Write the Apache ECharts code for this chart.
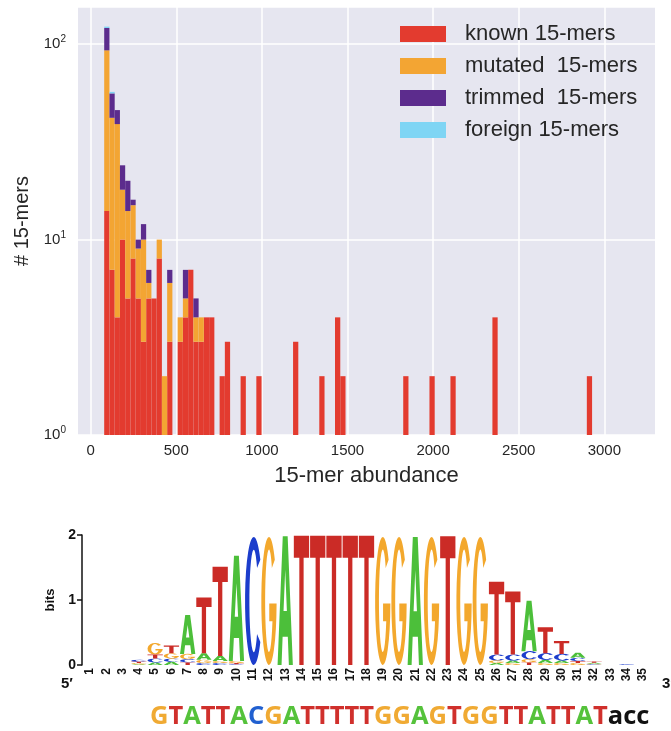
<!DOCTYPE html>
<html><head><meta charset="utf-8">
<script src="https://cdn.jsdelivr.net/npm/echarts@6/dist/echarts.min.js"></script>
<style>html,body{margin:0;padding:0;background:#fff}#c{width:671px;height:731px}</style>
</head><body><div id="c"></div>
<script>
// ---------- histogram data ----------
const seriesNames = ['known 15-mers', 'mutated  15-mers', 'trimmed  15-mers', 'foreign 15-mers'];
const binStart = 79;      // left edge of first histogram bin (15-mer abundance)
const binWidth = 30.64;   // histogram bin width
const known = [14,7,4,10,5,8,5,3,5,5, 8,1,3,0,3,4,7,3,3,4, 4,0,2,3,0,0,2,0,0,2,
               0,0,0,0,0,0,3,0,0,0, 0,2,0,0,4,2,0,0,0,0, 0,0,0,0,0,0,0,2,0,0,
               0,0,2,0,0,0,2,0,0,0, 0,0,0,0,4,0,0,0,0,0, 0,0,0,0,0,0,0,0,0,0,
               0,0,2,0,0,0,0,0,0,0];
const mutated = [79,35,35,8,9,7,4,7,1,0, 2,1,3,0,1,1,0,1,1,0, 0,0,0,0,0,0,0,0,0,0,
               0,0,0,0,0,0,0,0,0,0, 0,0,0,0,0,0,0,0,0,0, 0,0,0,0,0,0,0,0,0,0,
               0,0,0,0,0,0,0,0,0,0, 0,0,0,0,0,0,0,0,0,0, 0,0,0,0,0,0,0,0,0,0,
               0,0,0,0,0,0,0,0,0,0];
const trimmed = [28,14,7,6,6,1,1,2,1,0, 0,0,1,0,0,2,0,1,0,0, 0,0,0,0,0,0,0,0,0,0,
               0,0,0,0,0,0,0,0,0,0, 0,0,0,0,0,0,0,0,0,0, 0,0,0,0,0,0,0,0,0,0,
               0,0,0,0,0,0,0,0,0,0, 0,0,0,0,0,0,0,0,0,0, 0,0,0,0,0,0,0,0,0,0,
               0,0,0,0,0,0,0,0,0,0];
const foreign = [2,1,0,0,0,0,0,0,0,0, 0,0,0,0,0,0,0,0,0,0, 0,0,0,0,0,0,0,0,0,0,
               0,0,0,0,0,0,0,0,0,0, 0,0,0,0,0,0,0,0,0,0, 0,0,0,0,0,0,0,0,0,0,
               0,0,0,0,0,0,0,0,0,0, 0,0,0,0,0,0,0,0,0,0, 0,0,0,0,0,0,0,0,0,0,
               0,0,0,0,0,0,0,0,0,0];
const xTicks = [0, 500, 1000, 1500, 2000, 2500, 3000];

// ---------- sequence logo data (bits per letter, positions 1..35) ----------
const positions = ['1','2','3','4','5','6','7','8','9','10','11','12','13','14','15','16','17','18',
                   '19','20','21','22','23','24','25','26','27','28','29','30','31','32','33','34','35'];
const logoA = [0,0,0,.01,.04,.05,.60,.10,.08,1.62, 0,0,1.98,0,0,0,0,0,0,0, 1.97,0,0,0,0,.03,.04,.78,.05,.04, .08,.015,0,0,0];
const logoC = [0,0,0,.03,.06,.05,.05,.03,.03,.01, 1.97,0,0,0,0,0,0,0,0,0, 0,0,0,0,0,.09,.09,.12,.10,.10, .05,.01,0,.015,0];
const logoG = [0,0,0,.02,.18,.08,.08,.05,.03,.03, 0,1.97,0,0,0,0,0,0,1.97,1.97, 0,1.97,0,1.97,1.97,.04,.03,.05,.03,.03, .03,.01,0,0,0];
const logoT = [0,0,0,.02,.06,.12,.04,.86,1.37,.02, 0,0,0,1.99,1.99,1.99,1.99,1.99,0,0, 0,0,1.98,0,0,1.12,.97,.04,.40,.20, .03,.02,0,0,0];
const consensus = 'GTATTACGATTTTTGGAGTGGTTATTATacc';

// ---------- styles ----------
const histColors = ['#e33b2f', '#f3a533', '#5c2c8d', '#7fd5f4'];
const logoColors = { A: '#4cbf3a', C: '#1c3dcc', G: '#f3a82d', T: '#cb2b26' };
const seqColors = { G: '#f0aa33', T: '#d0302c', A: '#55c23b', C: '#2160d0', a: '#111', c: '#111' };
const glyphPaths = {
  A: 'M0 100 L34 0 L66 0 L100 100 L74 100 L67 78 L33 78 L26 100 Z M39 58 L61 58 L50 26 Z',
  C: 'M88.3 17.9 A50 50 0 1 0 88.3 82.1 L69.2 75.7 A25 40 0 1 1 69.2 24.3 Z',
  G: 'M88.3 17.9 A50 50 0 1 0 100 52 L52 52 L52 66 L72.9 66 A25 40 0 1 1 69.2 24.3 Z',
  T: 'M0 0 L100 0 L100 17 L64 17 L64 100 L36 100 L36 17 L0 17 Z'
};

function renderBin(params, api) {
  const xl = api.value(0), xr = api.value(1);
  const b = Math.max(api.value(2), 1), t = api.value(3);
  const pTop = api.coord([xl, t]);
  const pBot = api.coord([xr, b]);
  return { type: 'rect',
    shape: { x: pTop[0], y: pTop[1], width: pBot[0] - pTop[0], height: pBot[1] - pTop[1] },
    style: { fill: api.visual('color') } };
}

const layers = [known, mutated, trimmed, foreign];
const cumBelow = known.map(() => 0);
const histSeries = layers.map((layer, k) => {
  const data = [];
  layer.forEach((v, i) => {
    const b = cumBelow[i];
    if (v > 0) data.push([binStart + i * binWidth, binStart + (i + 1) * binWidth, b, b + v]);
    cumBelow[i] = b + v;
  });
  return { type: 'custom', name: seriesNames[k], xAxisIndex: 0, yAxisIndex: 0,
    encode: { x: [0, 1], y: 3 }, itemStyle: { color: histColors[k] },
    renderItem: renderBin, data: data, clip: true, silent: true };
});

const letters = ['A', 'C', 'G', 'T'];
const logoHeights = { A: logoA, C: logoC, G: logoG, T: logoT };
const logoData = { A: [], C: [], G: [], T: [] };
positions.forEach((p, i) => {
  const order = letters.slice().sort((a, b) => logoHeights[a][i] - logoHeights[b][i]);
  let cum = 0;
  order.forEach(L => {
    const h = logoHeights[L][i];
    if (h > 0) logoData[L].push([i, cum, cum + h]);
    cum += h;
  });
});
const logoSeries = letters.map(L => ({
  type: 'custom', name: 'logo-' + L, xAxisIndex: 1, yAxisIndex: 1,
  encode: { x: 0, y: [1, 2] }, itemStyle: { color: logoColors[L] }, silent: true,
  data: logoData[L],
  renderItem: function (params, api) {
    const idx = api.value(0), b = api.value(1), t = api.value(2);
    const pb = api.coord([idx, b]);
    const pt = api.coord([idx, t]);
    const band = api.size([1, 0])[0];
    const w = band * 0.94;
    return { type: 'path',
      shape: { pathData: glyphPaths[L], x: pb[0] - w / 2, y: pt[1], width: w, height: Math.max(pb[1] - pt[1], 0.3), layout: 'cover' },
      style: { fill: api.visual('color') } };
  }
}));

const seqRich = {};
Object.keys(seqColors).forEach(k => {
  seqRich[k] = { color: seqColors[k], fontSize: 25.5, fontWeight: 'bold', fontFamily: 'Open Sans' };
});

const option = {
  animation: false,
  textStyle: { fontFamily: 'Liberation Sans' },
  title: [
    { text: consensus.split('').map(ch => '{' + ch + '|' + ch + '}').join(''),
      left: 150, top: 704, padding: 0, textStyle: { rich: seqRich } },
    { text: '5′', left: 61, top: 676, padding: 0, textStyle: { fontSize: 15, fontWeight: 'bold', color: '#111' } },
    { text: '3′', left: 662, top: 676, padding: 0, textStyle: { fontSize: 15, fontWeight: 'bold', color: '#111' } }
  ],
  legend: {
    data: seriesNames.map(n => ({ name: n, icon: 'rect' })),
    orient: 'vertical', left: 400, top: 23, padding: 0, itemWidth: 46, itemHeight: 16, itemGap: 10,
    selectedMode: false,
    textStyle: { fontSize: 22, color: '#262626', lineHeight: 22, padding: [0, 0, 0, 14] }
  },
  grid: [
    { left: 78, top: 7, width: 577, height: 428, show: true, backgroundColor: '#e6e6f0', borderWidth: 0 },
    { left: 82, top: 535, width: 569, height: 130 }
  ],
  xAxis: [
    { gridIndex: 0, type: 'value', min: -74, max: 3296,
      axisLine: { show: false }, axisTick: { show: false, customValues: xTicks },
      axisLabel: { customValues: xTicks, color: '#262626', fontSize: 15, margin: 8, formatter: v => String(v) },
      splitLine: { show: true, lineStyle: { color: '#ffffff', width: 1.5 } },
      name: '15-mer abundance', nameLocation: 'middle', nameGap: 30,
      nameTextStyle: { fontSize: 22, color: '#262626' } },
    { gridIndex: 1, type: 'category', data: positions, boundaryGap: true,
      axisLine: { show: false }, axisTick: { show: false }, splitLine: { show: false },
      axisLabel: { interval: 0, rotate: 90, fontSize: 12, fontWeight: 'bold', color: '#111', margin: 3 } }
  ],
  yAxis: [
    { gridIndex: 0, type: 'log', logBase: 10, min: 1, max: 155,
      axisLine: { show: false }, axisTick: { show: false },
      axisLabel: { showMaxLabel: false, margin: 12, color: '#262626',
        formatter: v => '{b|10}{s|' + Math.round(Math.log10(v)) + '}',
        rich: { b: { fontSize: 15, color: '#262626' }, s: { fontSize: 10, color: '#262626', padding: [0, 0, 9, 0] } } },
      splitLine: { show: true, lineStyle: { color: '#ffffff', width: 1.5 } },
      name: '# 15-mers', nameLocation: 'middle', nameGap: 37,
      nameTextStyle: { fontSize: 20, color: '#262626' } },
    { gridIndex: 1, type: 'value', min: 0, max: 2, interval: 1,
      axisLine: { show: true, lineStyle: { color: '#111', width: 1.5 } },
      axisTick: { show: true, length: 5, lineStyle: { color: '#111', width: 1.5 } },
      axisLabel: { color: '#111', fontSize: 14, fontWeight: 'bold', margin: 6 },
      splitLine: { show: false },
      name: 'bits', nameLocation: 'middle', nameGap: 20,
      nameTextStyle: { fontSize: 13, fontWeight: 'bold', color: '#111' } }
  ],
  series: histSeries.concat(logoSeries)
};
const chart = echarts.init(document.getElementById('c'), null, { renderer: 'canvas', width: 671, height: 731 });
chart.setOption(option);
</script>
</body></html>
